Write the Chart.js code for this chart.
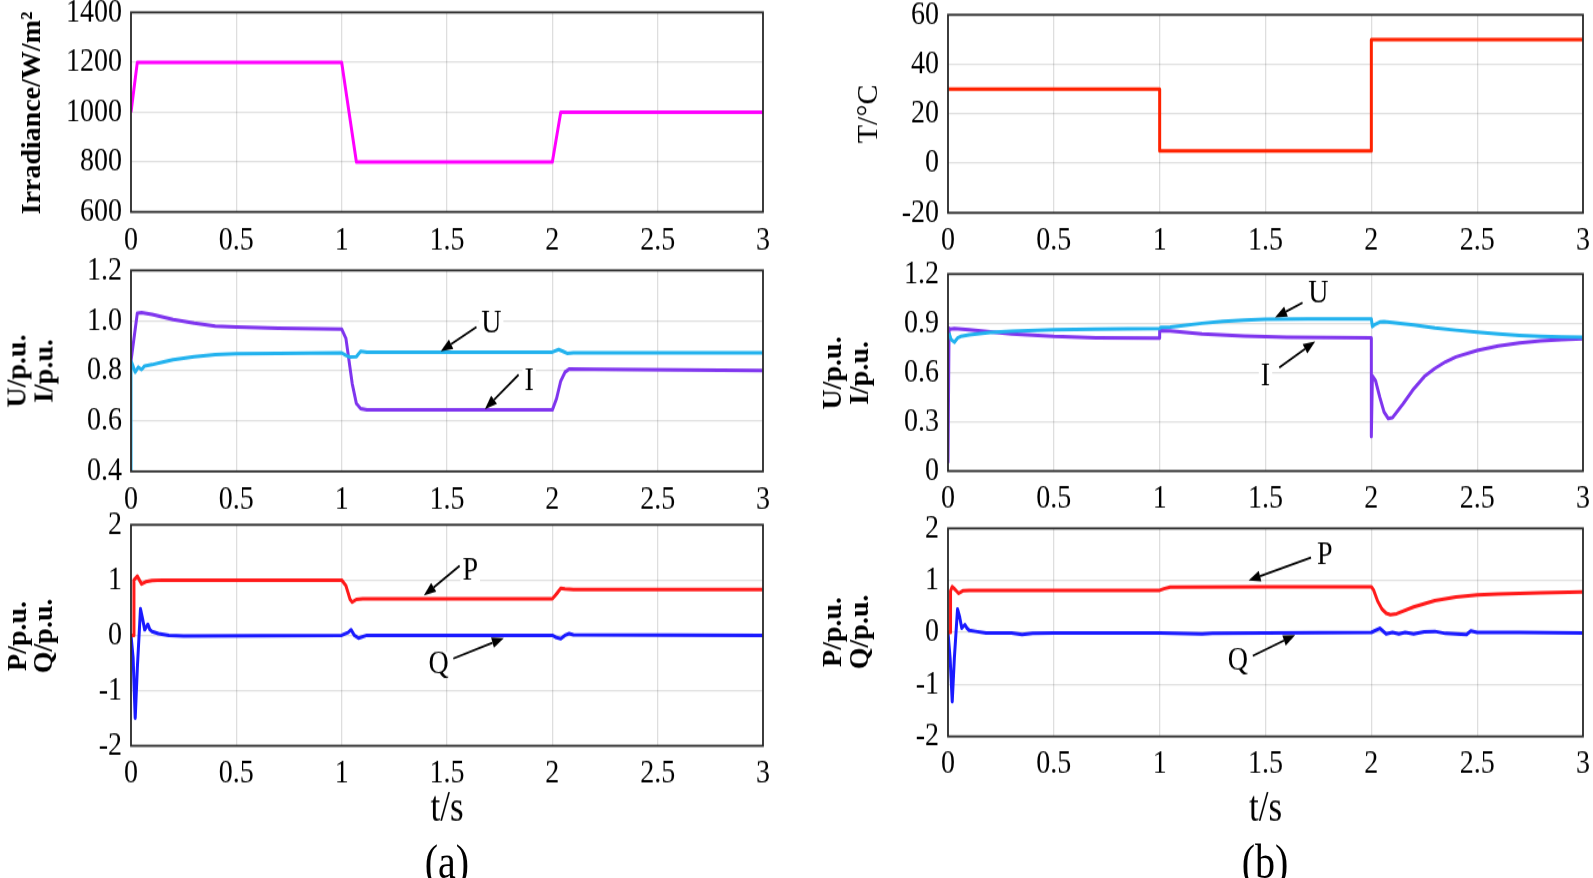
<!DOCTYPE html>
<html><head><meta charset="utf-8">
<script src="https://cdn.jsdelivr.net/npm/chart.js@4.4.1/dist/chart.umd.min.js"></script>
<style>
html,body{margin:0;padding:0;background:#fff;width:1593px;height:878px;overflow:hidden;position:relative;}
#wrap{position:absolute;left:0;top:0;width:1593px;height:732px;transform:scaleY(1.2);transform-origin:0 0;}
canvas{position:absolute;}
.lbl{position:absolute;font-family:"Liberation Serif",serif;color:#000;transform:translate(-50%,-50%);white-space:nowrap;line-height:1;}
.yt{position:absolute;font-family:"Liberation Serif",serif;color:#000;transform:translate(-50%,-50%) rotate(-90deg);white-space:nowrap;text-align:center;}
</style></head><body>
<div id="wrap">
<canvas id="aTop"></canvas><canvas id="aMid"></canvas><canvas id="aBot"></canvas>
<canvas id="bTop"></canvas><canvas id="bMid"></canvas><canvas id="bBot"></canvas>
<div class="lbl" style="left:447px;top:719px;font-size:40px">(a)</div>
<div class="lbl" style="left:1265px;top:719px;font-size:40px">(b)</div>
</div>
<div class="yt" style="left:31px;top:113px;font-size:28px;font-weight:bold;line-height:28px">Irradiance/W/m²</div>
<div class="yt" style="left:30px;top:370.5px;font-size:28px;font-weight:bold;line-height:26.5px">U/p.u.<br>I/p.u.</div>
<div class="yt" style="left:30px;top:636px;font-size:28px;font-weight:bold;line-height:26px">P/p.u.<br>Q/p.u.</div>
<div class="yt" style="left:867px;top:114px;font-size:30px;line-height:30px">T/°C</div>
<div class="yt" style="left:845px;top:372.5px;font-size:28px;font-weight:bold;line-height:27px">U/p.u.<br>I/p.u.</div>
<div class="yt" style="left:845px;top:632px;font-size:28px;font-weight:bold;line-height:27px">P/p.u.<br>Q/p.u.</div>
<script>
// ---------- data ----------
const xTicks = [0, 0.5, 1, 1.5, 2, 2.5, 3];
const xTickLabels = ['0', '0.5', '1', '1.5', '2', '2.5', '3'];

// (a) irradiance
const tIrr = [0, 0.03, 1.0, 1.07, 2.0, 2.04, 3.0];
const irr  = [1000, 1200, 1200, 800, 800, 1000, 1000];
const yTicksIrr = [600, 800, 1000, 1200, 1400];
const yLabelsIrr = ['600', '800', '1000', '1200', '1400'];

// (b) temperature
const tTemp = [0, 1, 1, 2, 2, 3];
const temp  = [30, 30, 5, 5, 50, 50];
const yTicksTemp = [-20, 0, 20, 40, 60];
const yLabelsTemp = ['-20', '0', '20', '40', '60'];

// (a) U, I
const tUa = [0, 0, 0.005, 0.02, 0.035, 0.05, 0.065, 0.1, 0.15, 0.2, 0.3, 0.4, 0.5, 0.7, 1.0, 1.02, 1.04, 1.07, 1.09, 1.12, 1.5, 2.0, 2.03, 2.05, 2.07, 2.1, 2.5, 3.0];
const Ua  = [0.4, 0.84, 0.83, 0.795, 0.815, 0.805, 0.82, 0.825, 0.835, 0.845, 0.857, 0.865, 0.868, 0.870, 0.872, 0.862, 0.855, 0.857, 0.878, 0.874, 0.874, 0.875, 0.885, 0.878, 0.870, 0.872, 0.872, 0.872];
const tIa = [0, 0.03, 0.05, 0.1, 0.2, 0.3, 0.4, 0.5, 0.7, 1.0, 1.02, 1.05, 1.07, 1.09, 1.12, 1.5, 2.0, 2.02, 2.04, 2.06, 2.08, 2.2, 3.0];
const Ia  = [0.84, 1.03, 1.032, 1.025, 1.005, 0.99, 0.978, 0.975, 0.97, 0.966, 0.93, 0.75, 0.67, 0.65, 0.645, 0.645, 0.645, 0.69, 0.76, 0.795, 0.808, 0.806, 0.802];
const yTicksUIa = [0.4, 0.6, 0.8, 1.0, 1.2];
const yLabelsUIa = ['0.4', '0.6', '0.8', '1.0', '1.2'];

// (b) U, I
const tUb = [0.005, 0.015, 0.03, 0.045, 0.06, 0.1, 0.2, 0.3, 0.5, 0.7, 1.0, 1.005, 1.05, 1.1, 1.2, 1.3, 1.4, 1.5, 1.7, 2.0, 2.005, 2.02, 2.04, 2.06, 2.1, 2.2, 2.3, 2.4, 2.5, 2.6, 2.7, 2.8, 2.9, 3.0];
const Ub  = [0.84, 0.80, 0.785, 0.81, 0.82, 0.83, 0.845, 0.852, 0.86, 0.865, 0.868, 0.875, 0.877, 0.885, 0.90, 0.912, 0.92, 0.924, 0.926, 0.926, 0.88, 0.895, 0.908, 0.91, 0.905, 0.89, 0.872, 0.858, 0.846, 0.835, 0.826, 0.82, 0.816, 0.815];
const tIb = [0, 0.005, 0.01, 0.03, 0.1, 0.2, 0.3, 0.5, 0.7, 1.0, 1.0, 1.05, 1.2, 1.4, 1.6, 2.0, 2.0, 2.005, 2.02, 2.04, 2.06, 2.08, 2.1, 2.15, 2.2, 2.25, 2.3, 2.35, 2.4, 2.5, 2.6, 2.7, 2.8, 2.9, 3.0];
const Ib  = [0.05, 0.87, 0.865, 0.868, 0.86, 0.848, 0.835, 0.82, 0.812, 0.81, 0.855, 0.853, 0.835, 0.822, 0.815, 0.812, 0.21, 0.58, 0.55, 0.45, 0.36, 0.32, 0.325, 0.41, 0.50, 0.575, 0.625, 0.665, 0.695, 0.735, 0.762, 0.78, 0.793, 0.80, 0.806];
const yTicksUIb = [0, 0.3, 0.6, 0.9, 1.2];
const yLabelsUIb = ['0', '0.3', '0.6', '0.9', '1.2'];

// (a) P, Q
const tPa = [0, 0.012, 0.014, 0.03, 0.05, 0.07, 0.1, 0.15, 1.0, 1.02, 1.04, 1.05, 1.07, 1.1, 2.0, 2.02, 2.04, 2.06, 2.1, 3.0];
const Pa  = [0, 0, 1.0, 1.07, 0.93, 0.97, 0.99, 1.0, 1.0, 0.9, 0.65, 0.6, 0.65, 0.66, 0.66, 0.75, 0.85, 0.84, 0.83, 0.83];
const tQa = [0, 0.01, 0.02, 0.03, 0.045, 0.055, 0.065, 0.08, 0.09, 0.1, 0.13, 0.18, 0.25, 1.0, 1.03, 1.045, 1.06, 1.08, 1.12, 2.0, 2.02, 2.04, 2.06, 2.08, 2.1, 3.0];
const Qa  = [0, -0.4, -1.5, -0.6, 0.48, 0.3, 0.1, 0.2, 0.1, 0.07, 0.03, 0.0, -0.01, 0.0, 0.05, 0.1, 0.0, -0.05, 0.0, 0.0, -0.04, -0.06, 0.0, 0.03, 0.01, 0.0];

// (b) P, Q
const tPb = [0, 0.01, 0.012, 0.02, 0.035, 0.05, 0.07, 0.1, 1.0, 1.02, 1.05, 1.5, 2.0, 2.01, 2.03, 2.05, 2.07, 2.09, 2.12, 2.2, 2.3, 2.4, 2.5, 2.6, 2.8, 3.0];
const Pb  = [0, 0, 0.8, 0.88, 0.82, 0.75, 0.8, 0.81, 0.81, 0.84, 0.87, 0.875, 0.875, 0.82, 0.6, 0.45, 0.37, 0.34, 0.36, 0.49, 0.61, 0.68, 0.72, 0.74, 0.76, 0.78];
const tQb = [0, 0.01, 0.02, 0.03, 0.045, 0.055, 0.065, 0.08, 0.09, 0.1, 0.13, 0.18, 0.3, 0.35, 0.4, 0.5, 1.0, 1.2, 1.25, 1.5, 2.0, 2.04, 2.07, 2.1, 2.13, 2.16, 2.2, 2.25, 2.3, 2.35, 2.45, 2.47, 2.5, 2.7, 3.0];
const Qb  = [0, -0.5, -1.33, -0.5, 0.45, 0.3, 0.08, 0.15, 0.08, 0.04, 0.02, -0.01, -0.01, -0.04, -0.02, -0.01, -0.01, -0.03, -0.02, -0.01, 0.0, 0.08, -0.03, 0.0, -0.03, 0.0, -0.03, 0.01, 0.02, -0.02, -0.04, 0.03, 0.0, 0.0, -0.01];
const yTicksPQ = [-2, -1, 0, 1, 2];
const yLabelsPQ = ['-2', '-1', '0', '1', '2'];

// ---------- helpers ----------
const SY = 1.2;  // vertical stretch of the whole drawing (tall, narrow type as in the original)
const FONT = '"Liberation Serif", "Times New Roman", serif';
Chart.defaults.font.family = FONT;
Chart.defaults.color = '#000';

const pts = (xs, ys) => xs.map((x, i) => ({x: x, y: ys[i]}));
const line = (xs, ys, color) => ({data: pts(xs, ys), borderColor: color, borderWidth: 3, pointRadius: 0, tension: 0, fill: false, borderJoinStyle: 'round'});

const framePlugin = {
  id: 'frame',
  afterDatasetsDraw(chart) {
    const {ctx, chartArea: a} = chart;
    ctx.save();
    ctx.strokeStyle = '#2a2a2a';
    ctx.lineWidth = 1.8;
    ctx.strokeRect(a.left, a.top, a.right - a.left, a.bottom - a.top);
    ctx.restore();
  }
};

const arrowPlugin = {
  id: 'arrows',
  afterDatasetsDraw(chart, args, opts) {
    const items = opts.items || [];
    const {ctx, scales: {x, y}} = chart;
    ctx.save();
    items.forEach(it => {
      const x0 = x.getPixelForValue(it.from[0]), y0 = y.getPixelForValue(it.from[1]);
      const x1 = x.getPixelForValue(it.to[0]), y1 = y.getPixelForValue(it.to[1]);
      const ang = Math.atan2(y1 - y0, x1 - x0);
      const hl = 12, hw = 4.5;
      const bx = x1 - hl * Math.cos(ang), by = y1 - hl * Math.sin(ang);
      ctx.strokeStyle = '#000'; ctx.fillStyle = '#000'; ctx.lineWidth = 1.8;
      ctx.beginPath(); ctx.moveTo(x0, y0); ctx.lineTo(bx, by); ctx.stroke();
      ctx.beginPath();
      ctx.moveTo(x1, y1);
      ctx.lineTo(bx + hw * Math.sin(ang), by - hw * Math.cos(ang));
      ctx.lineTo(bx - hw * Math.sin(ang), by + hw * Math.cos(ang));
      ctx.closePath(); ctx.fill();
      const tx = x.getPixelForValue(it.label[0]), ty = y.getPixelForValue(it.label[1]);
      ctx.font = '28px ' + FONT;
      ctx.textAlign = 'center'; ctx.textBaseline = 'middle';
      const w = ctx.measureText(it.text).width;
      ctx.fillStyle = '#fff';
      ctx.fillRect(tx - w / 2 - 2, ty - 10, w + 4, 20);
      ctx.fillStyle = '#000';
      ctx.fillText(it.text, tx, ty);
    });
    ctx.restore();
  }
};

// plot = chart-area rectangle in page pixels; bottomExt = page pixels below the plot that the canvas covers
function makePanel(id, x0, plot, bottomExt, cfg) {
  const ext = 40;
  const pageTop = plot.T - ext;
  const w = plot.R + ext - x0;
  const h = (plot.B + bottomExt - pageTop) / SY;
  const cv = document.getElementById(id);
  const hReal = Math.round(h);
  cv.width = w; cv.height = hReal;
  cv.style.left = x0 + 'px'; cv.style.top = (pageTop / SY) + 'px';
  cv.style.width = w + 'px'; cv.style.height = hReal + 'px';
  const padTop = ext / SY;
  const yW = plot.L - x0;
  const xH = hReal - (plot.B - pageTop) / SY;
  const tickSize = 28, tickLH = tickSize * 1.2;
  const xGap = (cfg.xGap || 28) / SY;
  const xTitleLH = 40;
  const xTitle = cfg.xTitle ? {display: true, text: cfg.xTitle, font: {size: 35, lineHeight: xTitleLH / 35},
      padding: {top: 0, bottom: hReal - (cfg.xTitleY - pageTop) / SY - xTitleLH / 2}} : {display: false};
  new Chart(cv, {
    type: 'line',
    data: {datasets: cfg.datasets},
    options: {
      responsive: false, animation: false, devicePixelRatio: 1,
      layout: {padding: {top: padTop, right: ext, left: 0, bottom: 0}},
      plugins: {legend: {display: false}, tooltip: {enabled: false}, arrows: {items: cfg.arrows || []}},
      scales: {
        x: {
          type: 'linear', min: 0, max: 3,
          afterFit: s => { s.height = xH; },
          afterBuildTicks: s => { s.ticks = xTicks.map(v => ({value: v})); },
          ticks: {font: {size: tickSize}, padding: xGap - tickLH / 2, maxRotation: 0, autoSkip: false, callback: (v, i) => xTickLabels[i]},
          grid: {color: 'rgba(0,0,0,0.13)', lineWidth: 1.3, drawTicks: false},
          border: {display: false},
          title: xTitle
        },
        y: {
          type: 'linear', min: cfg.yTicks[0], max: cfg.yTicks[cfg.yTicks.length - 1],
          afterFit: s => { s.width = yW; },
          afterBuildTicks: s => { s.ticks = cfg.yTicks.map(v => ({value: v})); },
          ticks: {font: {size: tickSize}, padding: 9, autoSkip: false, callback: (v, i) => cfg.yLabels[i]},
          grid: {color: 'rgba(0,0,0,0.13)', lineWidth: 1.3, drawTicks: false},
          border: {display: false},
          title: {display: false}
        }
      }
    },
    plugins: [framePlugin, arrowPlugin]
  });
}

const MAG = '#ff00ff', TRED = '#ff2200', CYAN = '#22b2ee', PURP = '#7f35ee', PRED = '#ff1a1a', QBLUE = '#1a1aff';

makePanel('aTop', 0, {L: 131, T: 12.5, R: 763, B: 212}, 50, {
  datasets: [line(tIrr, irr, MAG)], yTicks: yTicksIrr, yLabels: yLabelsIrr, xGap: 29
});
makePanel('aMid', 0, {L: 131, T: 270, R: 763, B: 471}, 50, {
  datasets: [line(tUa, Ua, CYAN), line(tIa, Ia, PURP)], yTicks: yTicksUIa, yLabels: yLabelsUIa, xGap: 29,
  arrows: [
    {text: 'U', label: [1.71, 0.99], from: [1.64, 0.975], to: [1.47, 0.878]},
    {text: 'I', label: [1.89, 0.758], from: [1.84, 0.785], to: [1.68, 0.648]}
  ]
});
makePanel('aBot', 0, {L: 131, T: 525, R: 763, B: 746}, 90, {
  datasets: [line(tPa, Pa, PRED), line(tQa, Qa, QBLUE)], yTicks: yTicksPQ, yLabels: yLabelsPQ, xGap: 28,
  xTitle: 't/s', xTitleY: 810,
  arrows: [
    {text: 'P', label: [1.61, 1.17], from: [1.56, 1.26], to: [1.39, 0.72]},
    {text: 'Q', label: [1.46, -0.52], from: [1.53, -0.42], to: [1.77, -0.05]}
  ]
});

makePanel('bTop', 810, {L: 948, T: 15, R: 1583, B: 213}, 50, {
  datasets: [line(tTemp, temp, TRED)], yTicks: yTicksTemp, yLabels: yLabelsTemp, xGap: 28
});
makePanel('bMid', 810, {L: 948, T: 274, R: 1583, B: 471}, 50, {
  datasets: [line(tUb, Ub, CYAN), line(tIb, Ib, PURP)], yTicks: yTicksUIb, yLabels: yLabelsUIb, xGap: 28,
  arrows: [
    {text: 'U', label: [1.75, 1.08], from: [1.675, 1.025], to: [1.545, 0.935]},
    {text: 'I', label: [1.50, 0.58], from: [1.565, 0.63], to: [1.735, 0.79]}
  ]
});
makePanel('bBot', 810, {L: 948, T: 528, R: 1583, B: 736}, 90, {
  datasets: [line(tPb, Pb, PRED), line(tQb, Qb, QBLUE)], yTicks: yTicksPQ, yLabels: yLabelsPQ, xGap: 28,
  xTitle: 't/s', xTitleY: 809,
  arrows: [
    {text: 'P', label: [1.78, 1.49], from: [1.715, 1.44], to: [1.42, 1.0]},
    {text: 'Q', label: [1.37, -0.55], from: [1.44, -0.45], to: [1.64, -0.05]}
  ]
});
</script>
</body></html>
